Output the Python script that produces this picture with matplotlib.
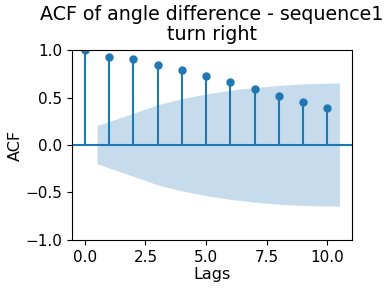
import matplotlib
matplotlib.use("Agg")
import matplotlib.pyplot as plt
import numpy as np

lags = [0, 1, 2, 3, 4, 5, 6, 7, 8, 9, 10]
acf_values = [1.0, 0.923, 0.902, 0.839, 0.786, 0.723, 0.660, 0.586, 0.512, 0.449, 0.386]
# confidence band for lags 1..10
band_upper = [0.204, 0.335, 0.425, 0.488, 0.538, 0.577, 0.606, 0.628, 0.644, 0.655]
band_lower = [-0.198, -0.330, -0.420, -0.484, -0.533, -0.572, -0.602, -0.624, -0.638, -0.645]

title = "ACF of angle difference - sequence1\nturn right"

fig = plt.figure(figsize=(3.9, 2.88), dpi=100)
ax = fig.add_axes([0.185, 0.167, 0.718, 0.659])

ax.vlines(lags, 0, acf_values, color="C0", linewidth=1.5)
ax.plot(lags, acf_values, "o", color="C0", markersize=5)
ax.axhline(0, color="C0", linewidth=1.5)

band_x = np.array(lags[1:], dtype=float)
band_x[0] -= 0.5
band_x[-1] += 0.5
ax.fill_between(band_x, band_lower, band_upper, color="C0", alpha=0.25, linewidth=0)

ax.margins(0.05)
ax.set_ylim(-1, 1)
ax.set_xticks([0, 2.5, 5, 7.5, 10])
ax.set_yticks([-1, -0.5, 0, 0.5, 1])
ax.tick_params(labelsize=11)
ax.set_title(title, fontsize=13.7, linespacing=1.12, pad=7)
ax.set_xlabel("Lags", fontsize=11.5, labelpad=2)
ax.set_ylabel("ACF", fontsize=11.5, labelpad=2)

fig.savefig("out.png", dpi=100)
